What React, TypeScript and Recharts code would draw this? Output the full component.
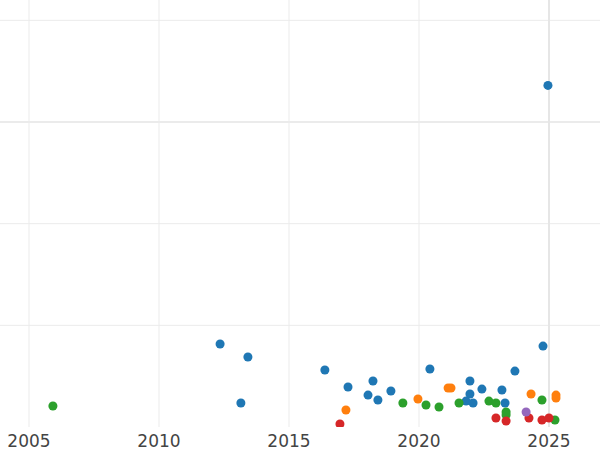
import { ScatterChart, Scatter, XAxis, YAxis, ReferenceLine } from 'recharts';

// [year, value]
const blueSeries = [
  [2024.96, 3.36], [2012.35, 0.816], [2013.42, 0.688], [2013.15, 0.236], [2016.38, 0.56],
  [2017.27, 0.393], [2018.23, 0.452], [2018.04, 0.314], [2018.42, 0.265], [2018.92, 0.354],
  [2020.42, 0.57], [2021.96, 0.452], [2021.96, 0.324], [2021.81, 0.255], [2022.08, 0.236],
  [2022.42, 0.373], [2023.19, 0.364], [2023.31, 0.236], [2023.69, 0.55], [2024.77, 0.796],
];
const orangeSeries = [
  [2017.19, 0.167], [2019.96, 0.275], [2021.12, 0.383], [2021.23, 0.383], [2024.31, 0.324],
  [2025.27, 0.314], [2025.27, 0.285],
];
const greenSeries = [
  [2005.92, 0.206], [2019.38, 0.236], [2020.27, 0.216], [2020.77, 0.197], [2021.54, 0.236],
  [2022.69, 0.255], [2022.96, 0.236], [2023.35, 0.147], [2023.35, 0.118], [2024.73, 0.265],
  [2025.23, 0.069],
];
const redSeries = [
  [2016.96, 0.029], [2022.96, 0.088], [2023.35, 0.059], [2024.23, 0.088], [2024.73, 0.069],
  [2025.0, 0.088],
];
const purpleSeries = [[2024.12, 0.147]];

const xTicks = [2005, 2010, 2015, 2020, 2025];
const yTicks = [1, 2, 3, 4];

const toPoints = (rows: number[][]) => rows.map(([x, y]) => ({ x, y }));

const series = [
  { name: 'blue', color: '#1f77b4', data: toPoints(blueSeries) },
  { name: 'orange', color: '#ff7f0e', data: toPoints(orangeSeries) },
  { name: 'green', color: '#2ca02c', data: toPoints(greenSeries) },
  { name: 'red', color: '#d62728', data: toPoints(redSeries) },
  { name: 'purple', color: '#9467bd', data: toPoints(purpleSeries) },
];

export default function App() {
  return (
    <div style={{ position: 'absolute', left: 0, top: 0, width: 600, height: 450, background: '#fff' }}>
      <ScatterChart width={600} height={450} margin={{ top: 0, right: 0, bottom: 0, left: 0 }}>
        <XAxis
          dataKey="x"
          type="number"
          domain={[2003.885, 2026.962]}
          ticks={xTicks}
          allowDataOverflow
          height={23}
          axisLine={false}
          tickLine={false}
          tickSize={0}
          tickMargin={8}
          tick={{ fill: '#444', fontSize: 17, fontFamily: 'DejaVu Sans' }}
        />
        <YAxis dataKey="y" type="number" domain={[0, 4.2]} ticks={yTicks} allowDataOverflow hide />
        {yTicks.map((t) => (
          <ReferenceLine key={`y${t}`} y={t} stroke="#ebebeb" strokeWidth={t === 3 ? 2 : 1} />
        ))}
        {xTicks.map((t) => (
          <ReferenceLine key={`x${t}`} x={t} stroke={t === 2025 ? '#e6e6e6' : '#ebebeb'} strokeWidth={t === 2025 ? 2 : 1} />
        ))}
        {series.map((s) => (
          <Scatter key={s.name} name={s.name} data={s.data} fill={s.color} isAnimationActive={false} />
        ))}
      </ScatterChart>
    </div>
  );
}
